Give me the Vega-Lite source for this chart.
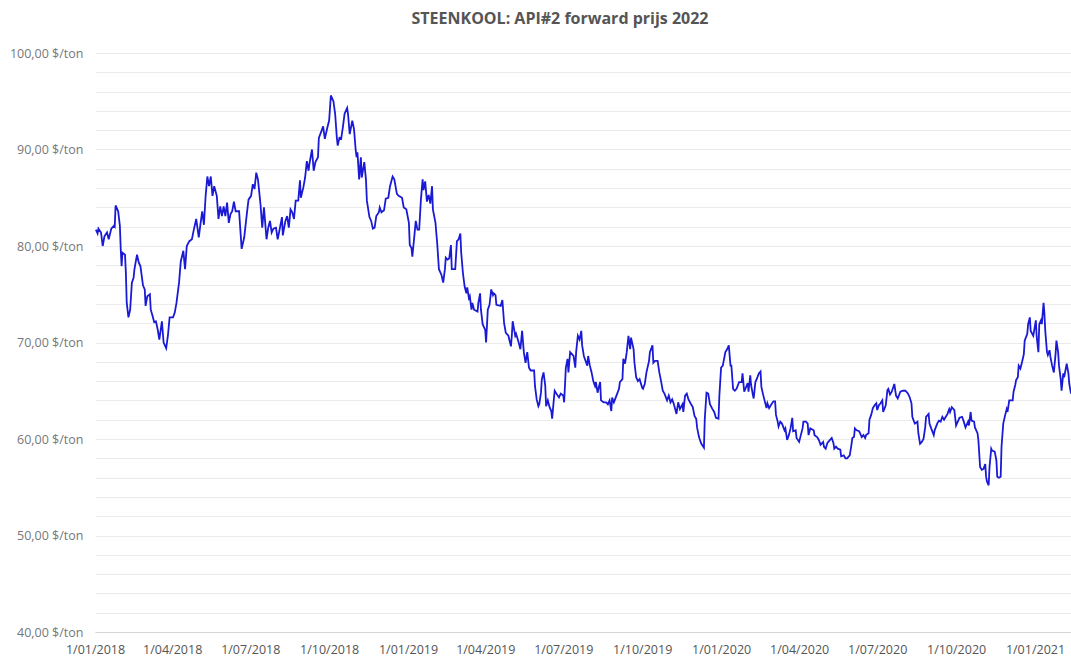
{
"$schema": "https://vega.github.io/schema/vega-lite/v6.json",
"width": 976, "height": 579,
"autosize": {"type": "none"},
"padding": {"left": 95, "top": 53, "right": 0, "bottom": 28},
"background": "white",
"title": {"text": "STEENKOOL: API#2 forward prijs 2022", "font": "Open Sans", "fontSize": 16, "fontWeight": "bold", "color": "#555555", "anchor": "middle", "dx": -23, "offset": 20},
"config": {"view": {"stroke": null}, "font": "Open Sans"},
"data": {"values": [
{"date":"2018-01-02","price":81.7},{"date":"2018-01-04","price":81.3},{"date":"2018-01-05","price":81.8},{"date":"2018-01-08","price":81.4},{"date":"2018-01-10","price":80.0},{"date":"2018-01-12","price":81.0},{"date":"2018-01-15","price":81.4},{"date":"2018-01-17","price":80.7},{"date":"2018-01-20","price":81.8},{"date":"2018-01-23","price":82.1},{"date":"2018-01-24","price":82.0},{"date":"2018-01-25","price":84.2},{"date":"2018-01-28","price":83.6},{"date":"2018-01-30","price":82.1},{"date":"2018-01-31","price":79.7},
{"date":"2018-02-01","price":77.9},{"date":"2018-02-02","price":79.3},{"date":"2018-02-05","price":79.1},{"date":"2018-02-06","price":77.2},{"date":"2018-02-07","price":74.1},{"date":"2018-02-09","price":72.6},{"date":"2018-02-11","price":73.4},{"date":"2018-02-13","price":76.2},{"date":"2018-02-15","price":76.7},{"date":"2018-02-16","price":77.6},{"date":"2018-02-19","price":79.1},{"date":"2018-02-21","price":78.3},{"date":"2018-02-23","price":77.9},{"date":"2018-02-26","price":75.9},{"date":"2018-02-28","price":75.5},
{"date":"2018-03-01","price":73.8},{"date":"2018-03-03","price":74.8},{"date":"2018-03-06","price":75.0},{"date":"2018-03-07","price":73.4},{"date":"2018-03-09","price":72.8},{"date":"2018-03-11","price":72.1},{"date":"2018-03-13","price":72.2},{"date":"2018-03-15","price":71.4},{"date":"2018-03-17","price":70.3},{"date":"2018-03-20","price":72.2},{"date":"2018-03-22","price":70.0},{"date":"2018-03-25","price":69.4},{"date":"2018-03-27","price":70.7},{"date":"2018-03-29","price":72.6},
{"date":"2018-04-02","price":72.6},{"date":"2018-04-04","price":73.1},{"date":"2018-04-06","price":74.1},{"date":"2018-04-09","price":76.2},{"date":"2018-04-11","price":78.4},{"date":"2018-04-14","price":79.5},{"date":"2018-04-16","price":77.6},{"date":"2018-04-18","price":80.0},{"date":"2018-04-21","price":80.5},{"date":"2018-04-24","price":80.7},{"date":"2018-04-26","price":81.6},{"date":"2018-04-29","price":82.8},
{"date":"2018-05-02","price":80.9},{"date":"2018-05-04","price":82.3},{"date":"2018-05-06","price":83.6},{"date":"2018-05-08","price":82.2},{"date":"2018-05-10","price":85.2},{"date":"2018-05-12","price":87.2},{"date":"2018-05-14","price":86.2},{"date":"2018-05-16","price":87.2},{"date":"2018-05-18","price":85.2},{"date":"2018-05-20","price":86.2},{"date":"2018-05-23","price":85.2},{"date":"2018-05-25","price":82.8},{"date":"2018-05-27","price":84.1},{"date":"2018-05-29","price":83.1},{"date":"2018-05-31","price":84.1},
{"date":"2018-06-02","price":83.1},{"date":"2018-06-04","price":84.5},{"date":"2018-06-06","price":82.4},{"date":"2018-06-08","price":83.3},{"date":"2018-06-10","price":83.6},{"date":"2018-06-12","price":84.6},{"date":"2018-06-14","price":83.6},{"date":"2018-06-18","price":83.6},{"date":"2018-06-21","price":79.7},{"date":"2018-06-24","price":80.9},{"date":"2018-06-27","price":83.3},{"date":"2018-06-29","price":84.8},
{"date":"2018-07-02","price":85.2},{"date":"2018-07-04","price":86.4},{"date":"2018-07-06","price":85.9},{"date":"2018-07-08","price":87.6},{"date":"2018-07-10","price":86.9},{"date":"2018-07-13","price":84.3},{"date":"2018-07-15","price":81.9},{"date":"2018-07-17","price":84.0},{"date":"2018-07-20","price":80.7},{"date":"2018-07-22","price":81.9},{"date":"2018-07-24","price":82.6},{"date":"2018-07-26","price":81.4},{"date":"2018-07-28","price":81.8},{"date":"2018-07-31","price":81.9},
{"date":"2018-08-02","price":80.7},{"date":"2018-08-04","price":81.6},{"date":"2018-08-07","price":83.0},{"date":"2018-08-08","price":81.1},{"date":"2018-08-11","price":82.6},{"date":"2018-08-13","price":83.1},{"date":"2018-08-15","price":81.9},{"date":"2018-08-17","price":83.8},{"date":"2018-08-19","price":83.5},{"date":"2018-08-21","price":82.8},{"date":"2018-08-23","price":84.7},{"date":"2018-08-26","price":84.7},{"date":"2018-08-28","price":86.8},{"date":"2018-08-29","price":85.0},
{"date":"2018-09-01","price":86.1},{"date":"2018-09-03","price":87.1},{"date":"2018-09-05","price":88.8},{"date":"2018-09-07","price":87.8},{"date":"2018-09-08","price":88.5},{"date":"2018-09-11","price":90.0},{"date":"2018-09-13","price":87.8},{"date":"2018-09-15","price":88.7},{"date":"2018-09-18","price":89.2},{"date":"2018-09-19","price":91.2},{"date":"2018-09-22","price":91.9},{"date":"2018-09-24","price":92.4},{"date":"2018-09-26","price":91.1},{"date":"2018-09-29","price":92.3},
{"date":"2018-10-01","price":93.0},{"date":"2018-10-03","price":95.6},{"date":"2018-10-06","price":95.0},{"date":"2018-10-08","price":93.7},{"date":"2018-10-10","price":91.2},{"date":"2018-10-11","price":90.4},{"date":"2018-10-13","price":91.2},{"date":"2018-10-15","price":91.1},{"date":"2018-10-17","price":92.3},{"date":"2018-10-19","price":93.7},{"date":"2018-10-22","price":94.3},{"date":"2018-10-23","price":93.7},{"date":"2018-10-25","price":91.6},{"date":"2018-10-28","price":93.0},{"date":"2018-10-30","price":92.1},
{"date":"2018-11-01","price":89.9},{"date":"2018-11-02","price":89.2},{"date":"2018-11-03","price":89.7},{"date":"2018-11-05","price":86.9},{"date":"2018-11-07","price":89.2},{"date":"2018-11-08","price":87.1},{"date":"2018-11-11","price":88.7},{"date":"2018-11-13","price":86.8},{"date":"2018-11-14","price":84.7},{"date":"2018-11-17","price":83.0},{"date":"2018-11-19","price":82.6},{"date":"2018-11-21","price":81.8},{"date":"2018-11-23","price":81.9},{"date":"2018-11-25","price":83.1},{"date":"2018-11-28","price":83.5},{"date":"2018-11-29","price":84.0},
{"date":"2018-12-01","price":83.5},{"date":"2018-12-04","price":83.7},{"date":"2018-12-06","price":84.9},{"date":"2018-12-09","price":85.0},{"date":"2018-12-11","price":86.2},{"date":"2018-12-14","price":87.2},{"date":"2018-12-16","price":86.9},{"date":"2018-12-19","price":85.4},{"date":"2018-12-21","price":85.2},{"date":"2018-12-25","price":85.0},{"date":"2018-12-27","price":84.0},{"date":"2018-12-30","price":83.8},
{"date":"2019-01-02","price":82.4},{"date":"2019-01-03","price":80.1},{"date":"2019-01-05","price":79.8},{"date":"2019-01-06","price":78.9},{"date":"2019-01-08","price":80.7},{"date":"2019-01-10","price":82.6},{"date":"2019-01-12","price":81.7},{"date":"2019-01-14","price":81.7},{"date":"2019-01-16","price":84.8},{"date":"2019-01-18","price":86.9},{"date":"2019-01-19","price":85.8},{"date":"2019-01-21","price":86.7},{"date":"2019-01-23","price":84.6},{"date":"2019-01-25","price":85.3},{"date":"2019-01-27","price":84.4},{"date":"2019-01-29","price":86.2},{"date":"2019-01-30","price":83.8},
{"date":"2019-02-02","price":82.4},{"date":"2019-02-03","price":81.3},{"date":"2019-02-04","price":80.3},{"date":"2019-02-06","price":77.6},{"date":"2019-02-09","price":77.0},{"date":"2019-02-11","price":76.2},{"date":"2019-02-13","price":77.6},{"date":"2019-02-14","price":78.8},{"date":"2019-02-16","price":78.6},{"date":"2019-02-18","price":78.7},{"date":"2019-02-20","price":80.1},{"date":"2019-02-21","price":77.6},{"date":"2019-02-25","price":77.6},{"date":"2019-02-27","price":80.5},
{"date":"2019-03-01","price":80.7},{"date":"2019-03-03","price":81.3},{"date":"2019-03-04","price":79.3},{"date":"2019-03-06","price":77.2},{"date":"2019-03-08","price":75.8},{"date":"2019-03-10","price":75.1},{"date":"2019-03-11","price":75.7},{"date":"2019-03-13","price":74.6},{"date":"2019-03-14","price":74.8},{"date":"2019-03-16","price":73.4},{"date":"2019-03-17","price":74.1},{"date":"2019-03-19","price":73.4},{"date":"2019-03-23","price":73.2},{"date":"2019-03-24","price":74.1},{"date":"2019-03-26","price":75.1},{"date":"2019-03-27","price":73.4},{"date":"2019-03-29","price":71.9},
{"date":"2019-04-01","price":71.3},{"date":"2019-04-02","price":70.0},{"date":"2019-04-04","price":73.4},{"date":"2019-04-06","price":73.9},{"date":"2019-04-08","price":75.5},{"date":"2019-04-10","price":74.9},{"date":"2019-04-11","price":75.1},{"date":"2019-04-13","price":74.9},{"date":"2019-04-14","price":73.9},{"date":"2019-04-19","price":73.8},{"date":"2019-04-21","price":74.4},{"date":"2019-04-23","price":72.0},{"date":"2019-04-25","price":71.0},{"date":"2019-04-28","price":70.7},
{"date":"2019-05-01","price":69.6},{"date":"2019-05-02","price":70.7},{"date":"2019-05-03","price":72.2},{"date":"2019-05-06","price":70.7},{"date":"2019-05-07","price":70.9},{"date":"2019-05-10","price":70.0},{"date":"2019-05-12","price":69.3},{"date":"2019-05-14","price":71.2},{"date":"2019-05-16","price":69.0},{"date":"2019-05-18","price":67.9},{"date":"2019-05-20","price":69.0},{"date":"2019-05-22","price":67.4},{"date":"2019-05-24","price":67.1},{"date":"2019-05-28","price":67.1},{"date":"2019-05-29","price":65.5},{"date":"2019-05-31","price":64.1},
{"date":"2019-06-02","price":63.4},{"date":"2019-06-03","price":63.6},{"date":"2019-06-05","price":64.8},{"date":"2019-06-06","price":66.2},{"date":"2019-06-08","price":66.9},{"date":"2019-06-10","price":65.5},{"date":"2019-06-11","price":63.4},{"date":"2019-06-13","price":64.0},{"date":"2019-06-15","price":63.3},{"date":"2019-06-17","price":62.9},{"date":"2019-06-18","price":62.1},{"date":"2019-06-20","price":64.1},{"date":"2019-06-21","price":65.0},{"date":"2019-06-23","price":64.7},{"date":"2019-06-26","price":64.3},{"date":"2019-06-28","price":64.7},
{"date":"2019-07-01","price":64.5},{"date":"2019-07-02","price":63.8},{"date":"2019-07-04","price":67.4},{"date":"2019-07-06","price":68.3},{"date":"2019-07-07","price":66.9},{"date":"2019-07-09","price":69.0},{"date":"2019-07-13","price":68.6},{"date":"2019-07-15","price":67.4},{"date":"2019-07-16","price":69.0},{"date":"2019-07-18","price":70.7},{"date":"2019-07-20","price":70.3},{"date":"2019-07-22","price":71.2},{"date":"2019-07-23","price":69.7},{"date":"2019-07-25","price":68.6},{"date":"2019-07-27","price":68.1},{"date":"2019-07-29","price":67.6},{"date":"2019-07-30","price":68.6},
{"date":"2019-08-01","price":67.6},{"date":"2019-08-03","price":66.9},{"date":"2019-08-05","price":66.0},{"date":"2019-08-07","price":65.5},{"date":"2019-08-08","price":65.9},{"date":"2019-08-10","price":64.8},{"date":"2019-08-11","price":65.2},{"date":"2019-08-13","price":65.9},{"date":"2019-08-14","price":64.0},{"date":"2019-08-17","price":63.8},{"date":"2019-08-20","price":63.8},{"date":"2019-08-22","price":63.6},{"date":"2019-08-24","price":64.0},{"date":"2019-08-26","price":62.9},{"date":"2019-08-27","price":64.3},{"date":"2019-08-29","price":63.8},
{"date":"2019-09-01","price":64.5},{"date":"2019-09-04","price":65.2},{"date":"2019-09-05","price":65.9},{"date":"2019-09-08","price":66.2},{"date":"2019-09-09","price":68.3},{"date":"2019-09-11","price":67.8},{"date":"2019-09-13","price":69.0},{"date":"2019-09-15","price":70.7},{"date":"2019-09-17","price":69.3},{"date":"2019-09-18","price":70.5},{"date":"2019-09-21","price":69.3},{"date":"2019-09-22","price":67.9},{"date":"2019-09-24","price":66.4},{"date":"2019-09-26","price":66.0},{"date":"2019-09-28","price":66.2},
{"date":"2019-10-01","price":65.3},{"date":"2019-10-02","price":65.2},{"date":"2019-10-04","price":65.7},{"date":"2019-10-06","price":66.9},{"date":"2019-10-09","price":68.1},{"date":"2019-10-10","price":69.0},{"date":"2019-10-13","price":69.7},{"date":"2019-10-14","price":67.9},{"date":"2019-10-16","price":68.1},{"date":"2019-10-19","price":68.1},{"date":"2019-10-21","price":66.9},{"date":"2019-10-23","price":66.0},{"date":"2019-10-25","price":65.0},{"date":"2019-10-27","price":64.7},{"date":"2019-10-30","price":64.0},
{"date":"2019-11-01","price":64.5},{"date":"2019-11-03","price":63.8},{"date":"2019-11-05","price":64.1},{"date":"2019-11-07","price":63.6},{"date":"2019-11-10","price":62.6},{"date":"2019-11-12","price":63.8},{"date":"2019-11-14","price":63.1},{"date":"2019-11-17","price":63.6},{"date":"2019-11-18","price":62.8},{"date":"2019-11-20","price":64.5},{"date":"2019-11-22","price":64.7},{"date":"2019-11-24","price":64.1},{"date":"2019-11-27","price":63.6},{"date":"2019-11-29","price":63.3},
{"date":"2019-12-01","price":62.4},{"date":"2019-12-03","price":62.1},{"date":"2019-12-04","price":61.2},{"date":"2019-12-06","price":60.3},{"date":"2019-12-07","price":60.0},{"date":"2019-12-09","price":59.5},{"date":"2019-12-12","price":59.1},{"date":"2019-12-13","price":62.1},{"date":"2019-12-15","price":64.8},{"date":"2019-12-17","price":64.7},{"date":"2019-12-19","price":63.6},{"date":"2019-12-22","price":63.1},{"date":"2019-12-24","price":62.8},{"date":"2019-12-26","price":62.2},{"date":"2019-12-29","price":62.1},{"date":"2019-12-30","price":64.5},
{"date":"2020-01-01","price":67.4},{"date":"2020-01-03","price":67.6},{"date":"2020-01-06","price":69.0},{"date":"2020-01-08","price":69.3},{"date":"2020-01-10","price":69.7},{"date":"2020-01-12","price":67.6},{"date":"2020-01-13","price":67.6},{"date":"2020-01-15","price":65.2},{"date":"2020-01-17","price":65.0},{"date":"2020-01-19","price":65.2},{"date":"2020-01-22","price":65.9},{"date":"2020-01-25","price":65.9},{"date":"2020-01-26","price":66.8},{"date":"2020-01-28","price":64.9},
{"date":"2020-02-01","price":65.8},{"date":"2020-02-02","price":64.9},{"date":"2020-02-04","price":66.6},{"date":"2020-02-05","price":65.6},{"date":"2020-02-07","price":64.6},{"date":"2020-02-08","price":64.2},{"date":"2020-02-10","price":65.9},{"date":"2020-02-12","price":66.3},{"date":"2020-02-14","price":66.8},{"date":"2020-02-16","price":67.0},{"date":"2020-02-17","price":65.4},{"date":"2020-02-19","price":64.6},{"date":"2020-02-21","price":63.9},{"date":"2020-02-23","price":63.2},{"date":"2020-02-24","price":63.7},{"date":"2020-02-26","price":63.2},{"date":"2020-02-28","price":63.5},
{"date":"2020-03-02","price":63.9},{"date":"2020-03-04","price":63.9},{"date":"2020-03-05","price":62.5},{"date":"2020-03-07","price":61.8},{"date":"2020-03-08","price":61.3},{"date":"2020-03-10","price":61.8},{"date":"2020-03-12","price":61.6},{"date":"2020-03-15","price":60.9},{"date":"2020-03-16","price":61.1},{"date":"2020-03-18","price":59.9},{"date":"2020-03-20","price":60.4},{"date":"2020-03-22","price":61.1},{"date":"2020-03-24","price":62.2},{"date":"2020-03-25","price":60.8},{"date":"2020-03-28","price":60.9},{"date":"2020-03-29","price":60.1},
{"date":"2020-04-01","price":59.7},{"date":"2020-04-03","price":60.4},{"date":"2020-04-05","price":61.1},{"date":"2020-04-06","price":61.8},{"date":"2020-04-09","price":61.8},{"date":"2020-04-11","price":61.6},{"date":"2020-04-12","price":60.4},{"date":"2020-04-14","price":61.1},{"date":"2020-04-18","price":60.9},{"date":"2020-04-19","price":60.4},{"date":"2020-04-22","price":60.2},{"date":"2020-04-24","price":59.9},{"date":"2020-04-26","price":59.4},{"date":"2020-04-29","price":59.7},{"date":"2020-04-30","price":59.2},
{"date":"2020-05-02","price":59.0},{"date":"2020-05-04","price":59.6},{"date":"2020-05-07","price":59.9},{"date":"2020-05-09","price":60.1},{"date":"2020-05-11","price":59.6},{"date":"2020-05-12","price":59.0},{"date":"2020-05-14","price":59.2},{"date":"2020-05-16","price":59.0},{"date":"2020-05-19","price":58.9},{"date":"2020-05-20","price":58.2},{"date":"2020-05-23","price":58.3},{"date":"2020-05-25","price":58.0},{"date":"2020-05-27","price":58.0},{"date":"2020-05-30","price":58.3},
{"date":"2020-06-01","price":59.4},{"date":"2020-06-02","price":60.1},{"date":"2020-06-04","price":60.2},{"date":"2020-06-05","price":61.1},{"date":"2020-06-07","price":60.9},{"date":"2020-06-10","price":60.8},{"date":"2020-06-11","price":60.6},{"date":"2020-06-13","price":60.2},{"date":"2020-06-15","price":60.4},{"date":"2020-06-17","price":60.1},{"date":"2020-06-18","price":60.4},{"date":"2020-06-21","price":60.6},{"date":"2020-06-22","price":62.0},{"date":"2020-06-24","price":62.5},{"date":"2020-06-26","price":63.2},{"date":"2020-06-28","price":63.5},{"date":"2020-06-30","price":63.7},
{"date":"2020-07-01","price":63.0},{"date":"2020-07-03","price":63.5},{"date":"2020-07-05","price":63.7},{"date":"2020-07-07","price":64.0},{"date":"2020-07-08","price":62.8},{"date":"2020-07-11","price":63.5},{"date":"2020-07-13","price":65.1},{"date":"2020-07-14","price":65.2},{"date":"2020-07-16","price":64.6},{"date":"2020-07-18","price":64.9},{"date":"2020-07-21","price":65.7},{"date":"2020-07-23","price":64.5},{"date":"2020-07-25","price":64.2},{"date":"2020-07-28","price":64.9},{"date":"2020-07-31","price":65.0},
{"date":"2020-08-03","price":65.0},{"date":"2020-08-06","price":64.7},{"date":"2020-08-08","price":64.3},{"date":"2020-08-10","price":63.7},{"date":"2020-08-11","price":62.3},{"date":"2020-08-13","price":61.8},{"date":"2020-08-14","price":61.6},{"date":"2020-08-17","price":61.8},{"date":"2020-08-18","price":60.6},{"date":"2020-08-20","price":59.5},{"date":"2020-08-22","price":59.7},{"date":"2020-08-24","price":60.0},{"date":"2020-08-26","price":61.2},{"date":"2020-08-27","price":62.3},{"date":"2020-08-30","price":62.6},{"date":"2020-08-31","price":61.6},
{"date":"2020-09-02","price":61.1},{"date":"2020-09-05","price":60.4},{"date":"2020-09-06","price":60.9},{"date":"2020-09-09","price":61.6},{"date":"2020-09-11","price":61.9},{"date":"2020-09-13","price":61.8},{"date":"2020-09-15","price":62.3},{"date":"2020-09-17","price":62.0},{"date":"2020-09-19","price":62.3},{"date":"2020-09-21","price":62.6},{"date":"2020-09-23","price":63.1},{"date":"2020-09-24","price":62.8},{"date":"2020-09-26","price":63.3},{"date":"2020-09-29","price":63.0},
{"date":"2020-10-01","price":61.4},{"date":"2020-10-03","price":61.8},{"date":"2020-10-05","price":62.2},{"date":"2020-10-08","price":62.3},{"date":"2020-10-10","price":61.8},{"date":"2020-10-12","price":61.2},{"date":"2020-10-15","price":61.8},{"date":"2020-10-16","price":61.4},{"date":"2020-10-18","price":62.8},{"date":"2020-10-19","price":61.9},{"date":"2020-10-22","price":61.8},{"date":"2020-10-23","price":61.2},{"date":"2020-10-26","price":60.6},{"date":"2020-10-27","price":59.9},{"date":"2020-10-28","price":58.5},{"date":"2020-10-29","price":57.1},{"date":"2020-10-31","price":56.8},
{"date":"2020-11-02","price":56.9},{"date":"2020-11-04","price":57.4},{"date":"2020-11-05","price":56.1},{"date":"2020-11-06","price":55.6},{"date":"2020-11-08","price":55.2},{"date":"2020-11-09","price":57.1},{"date":"2020-11-11","price":59.0},{"date":"2020-11-12","price":58.8},{"date":"2020-11-15","price":58.7},{"date":"2020-11-17","price":57.8},{"date":"2020-11-18","price":56.1},{"date":"2020-11-20","price":56.0},{"date":"2020-11-22","price":56.1},{"date":"2020-11-23","price":59.2},{"date":"2020-11-25","price":61.6},{"date":"2020-11-27","price":62.4},{"date":"2020-11-29","price":63.1},{"date":"2020-11-30","price":62.8},
{"date":"2020-12-02","price":64.0},{"date":"2020-12-06","price":64.0},{"date":"2020-12-07","price":64.9},{"date":"2020-12-09","price":65.6},{"date":"2020-12-10","price":66.1},{"date":"2020-12-12","price":66.4},{"date":"2020-12-13","price":67.6},{"date":"2020-12-15","price":67.3},{"date":"2020-12-17","price":68.0},{"date":"2020-12-19","price":68.8},{"date":"2020-12-20","price":70.2},{"date":"2020-12-23","price":70.9},{"date":"2020-12-24","price":71.9},{"date":"2020-12-26","price":72.6},{"date":"2020-12-27","price":71.2},{"date":"2020-12-30","price":70.7},{"date":"2020-12-31","price":71.2},
{"date":"2021-01-02","price":72.3},{"date":"2021-01-03","price":70.6},{"date":"2021-01-05","price":69.0},{"date":"2021-01-06","price":71.9},{"date":"2021-01-08","price":72.3},{"date":"2021-01-09","price":71.9},{"date":"2021-01-11","price":74.1},{"date":"2021-01-12","price":73.0},{"date":"2021-01-13","price":71.2},{"date":"2021-01-15","price":69.0},{"date":"2021-01-16","price":68.7},{"date":"2021-01-18","price":69.2},{"date":"2021-01-19","price":68.5},{"date":"2021-01-21","price":67.6},{"date":"2021-01-23","price":66.9},{"date":"2021-01-25","price":68.8},{"date":"2021-01-26","price":70.2},{"date":"2021-01-28","price":69.0},{"date":"2021-01-29","price":67.6},{"date":"2021-01-31","price":66.2},
{"date":"2021-02-01","price":65.0},{"date":"2021-02-03","price":66.8},{"date":"2021-02-04","price":66.4},{"date":"2021-02-07","price":67.8},{"date":"2021-02-09","price":66.8},{"date":"2021-02-10","price":65.7},{"date":"2021-02-12","price":64.7}
]},
"mark": {"type": "line", "color": "#1a1ad6", "strokeWidth": 1.8, "clip": true},
"encoding": {
  "x": {"field": "date", "type": "temporal",
    "scale": {"domain": [{"year": 2018, "month": 1, "date": 1}, {"year": 2021, "month": 2, "date": 12}], "nice": false},
    "axis": {"title": null, "format": "%-d/%m/%Y", "tickCount": {"interval": "month", "step": 3}, "grid": false, "ticks": false, "domain": true, "domainColor": "#d4d4d4", "labelFont": "Open Sans", "labelFontSize": 12.5, "labelColor": "#555555", "labelPadding": 11, "labelOverlap": false, "labelFlush": false}},
  "y": {"field": "price", "type": "quantitative",
    "scale": {"domain": [40, 100], "nice": false, "zero": false},
    "axis": {"title": null, "values": [40,42,44,46,48,50,52,54,56,58,60,62,64,66,68,70,72,74,76,78,80,82,84,86,88,90,92,94,96,98,100],
      "labelExpr": "datum.value % 10 === 0 ? replace(format(datum.value, '.2f'), '.', ',') + ' $/ton' : ''",
      "grid": true, "gridColor": "#ebebeb", "gridWidth": 1, "ticks": false, "domain": false, "labelFont": "Open Sans", "labelColor": "#777777", "labelFontSize": 12.5, "labelPadding": 12, "labelOverlap": false}}
}
}
